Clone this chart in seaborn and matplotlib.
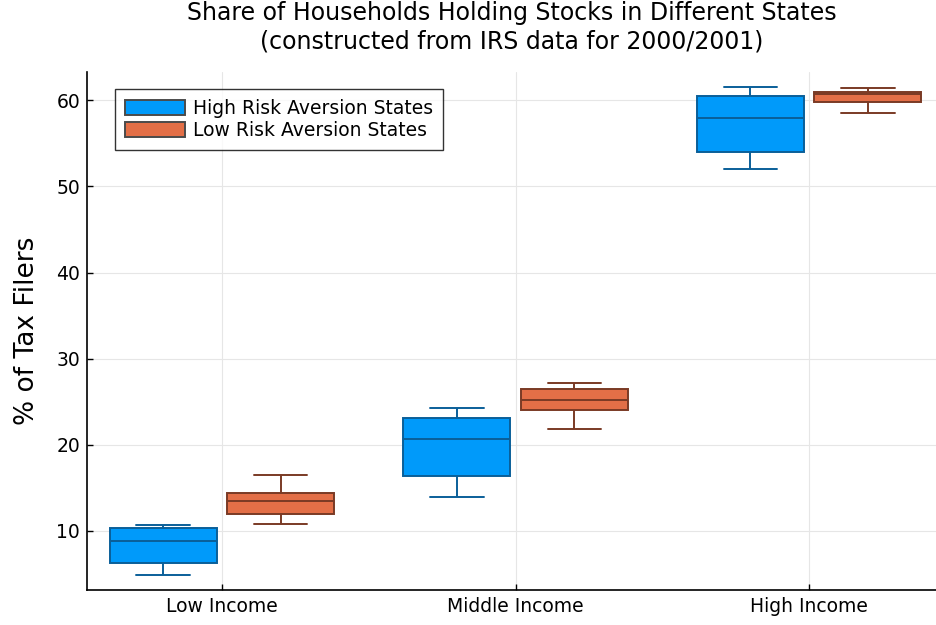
import matplotlib
matplotlib.use("Agg")
import matplotlib.pyplot as plt
import numpy as np
import pandas as pd
import seaborn as sns

# five-number summaries: min, q1, median, q3, max
categories = ["Low Income", "Middle Income", "High Income"]
groups = ["High Risk Aversion States", "Low Risk Aversion States"]
high_risk = {
    "Low Income": [4.9, 6.3, 8.8, 10.35, 10.7],
    "Middle Income": [13.9, 16.4, 20.7, 23.1, 24.3],
    "High Income": [52.0, 54.0, 58.0, 60.5, 61.5],
}
low_risk = {
    "Low Income": [10.8, 12.0, 13.5, 14.4, 16.5],
    "Middle Income": [21.8, 24.0, 25.2, 26.5, 27.2],
    "High Income": [58.5, 59.8, 60.7, 61.0, 61.4],
}
colors = ["#009AFA", "#E36F47"]
edge_colors = ["#0A5F99", "#7A3A25"]

rows = []
for group, table in zip(groups, [high_risk, low_risk]):
    for cat in categories:
        for v in table[cat]:
            rows.append({"income": cat, "group": group, "share": v})
df = pd.DataFrame(rows)

sns.set_theme(style="white")
plt.rcParams["font.family"] = ["DejaVu Sans"]
plt.rcParams["text.color"] = "black"
plt.rcParams["axes.labelcolor"] = "black"
plt.rcParams["xtick.color"] = "black"
plt.rcParams["ytick.color"] = "black"

fig = plt.figure(figsize=(9.37, 6.25), dpi=100)
ax = fig.add_axes([0.093, 0.056, 0.906, 0.829])

sns.boxplot(
    data=df, x="income", y="share", hue="group", order=categories,
    hue_order=groups, palette=colors, saturation=1, width=0.8, gap=0.09,
    whis=np.inf, linewidth=1.4, ax=ax,
)

# colour each box's outline, whiskers, caps and median in a darker shade
n_cat = len(categories)
for i, patch in enumerate(ax.patches[: 2 * n_cat]):
    g = i // n_cat
    patch.set_edgecolor(edge_colors[g])
lines = ax.lines
per_box = len(lines) // (2 * n_cat) if lines else 0
for j, line in enumerate(lines[: per_box * 2 * n_cat]):
    g = (j // per_box) // n_cat
    line.set_color(edge_colors[g])

ax.set_xlim(-0.459, 2.432)
ax.set_ylim(3.15, 63.3)
ax.set_yticks([10, 20, 30, 40, 50, 60])
ax.set_xlabel("")
ax.set_ylabel("% of Tax Filers", fontsize=19, labelpad=12)
ax.set_title("Share of Households Holding Stocks in Different States\n"
             "(constructed from IRS data for 2000/2001)", fontsize=17, pad=17)
ax.grid(True, color="#E6E6E6", linewidth=0.8)
ax.set_axisbelow(True)
for side in ["top", "right"]:
    ax.spines[side].set_visible(False)
for side in ["left", "bottom"]:
    ax.spines[side].set_color("black")
    ax.spines[side].set_linewidth(1.2)
ax.tick_params(axis="both", direction="in", length=4, width=1, color="black",
               labelsize=13.5, left=True, bottom=True, pad=5)

leg = ax.legend(loc="upper left", bbox_to_anchor=(0.033, 0.967), fontsize=13.5,
                frameon=True, fancybox=False, edgecolor="black",
                handlelength=3.2, handleheight=0.85, handletextpad=0.4,
                borderpad=0.55, borderaxespad=0, labelspacing=0.15)
leg.get_frame().set_linewidth(1.0)

fig.savefig("out.png", dpi=100)
